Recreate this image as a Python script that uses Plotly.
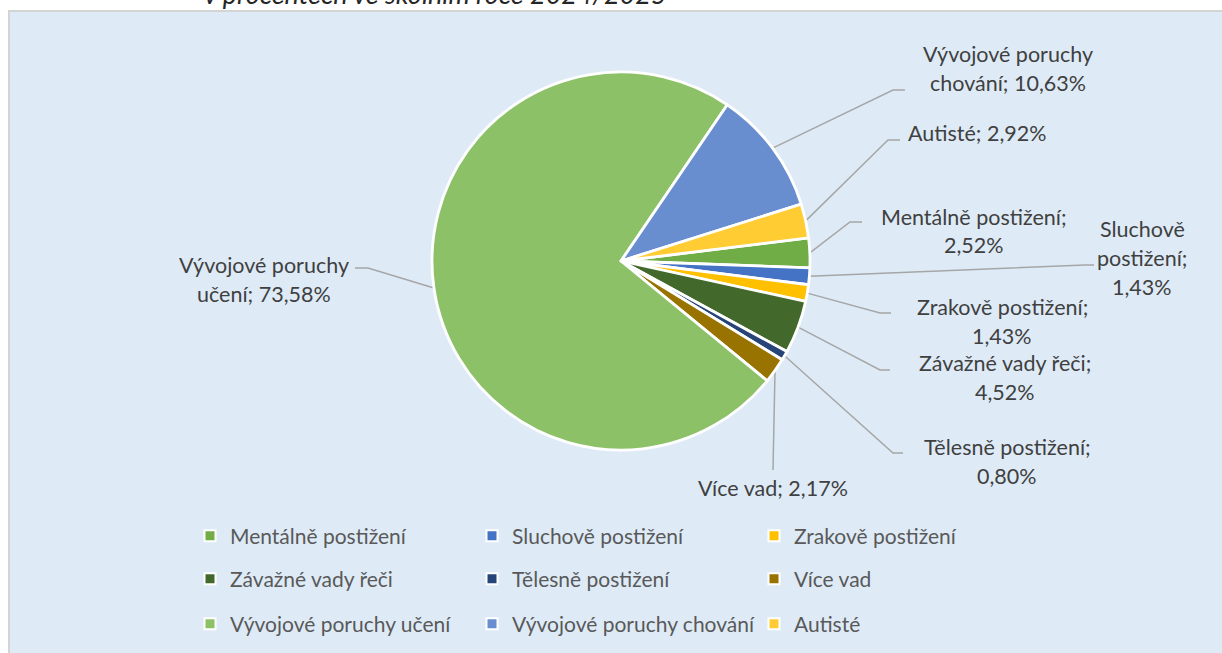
import numpy as np
import plotly.graph_objects as go

# data
labels = ["Mentálně postižení", "Sluchově postižení", "Zrakově postižení",
          "Závažné vady řeči", "Tělesně postižení", "Více vad",
          "Vývojové poruchy učení", "Vývojové poruchy chování", "Autisté"]
values = [2.52, 1.43, 1.43, 4.52, 0.80, 2.17, 73.58, 10.63, 2.92]
subtitle = "v procentech ve školním roce 2024/2025"

# styles
colors = ["#70AD47", "#4472C4", "#FFC000", "#43682B", "#264478", "#997300",
          "#8CC168", "#698ED0", "#FFCD33"]
FONT = "Lato"
W, H = 1222, 653
ML, MR = 150, 150
CX, CY, R = 621, 261, 189      # pie centre / radius in px
ROT = 83

# label layout: words per line, text block centre, leader knee (x, y, end x)
label_wrap = [[2, 1], [1, 1, 1], [2, 1], [3, 1], [2, 1], [3], [2, 2], [2, 2], [2]]
label_pos = [(974, 231), (1142, 258), (1002, 321), (1005, 378), (1007, 461),
             (773, 488), (264, 279), (1008, 68), (977, 133)]
leader_knee = [(850, 222, 862), (1085, 265, 1094), (880, 313, 891),
               (880, 370, 890), (893, 453, 903), (773, 470, 773),
               (368, 268, 355), (893, 90, 905), (888, 140, 900)]
LINE_H = 29

legend_rows = [536, 579, 624]
LEGEND_X = 190

gw = W - ML - MR


def px(x):
    return (x - ML) / gw


def py(y):
    return 1 - y / H


fig = go.Figure()

fig.add_trace(go.Pie(
    labels=labels, values=values, sort=False, direction="clockwise",
    rotation=ROT, textinfo="none", hoverinfo="skip", showlegend=False,
    marker=dict(colors=colors, line=dict(color="white", width=2.8)),
    domain=dict(x=[px(CX - R), px(CX + R)], y=[py(CY + R), py(CY - R)]),
))

# legend entries (3 rows of 3)
for i, (name, col) in enumerate(zip(labels, colors)):
    leg = "legend" if i // 3 == 0 else "legend%d" % (i // 3 + 1)
    fig.add_trace(go.Scatter(
        x=[None], y=[None], mode="markers", name=name, legend=leg,
        marker=dict(symbol="square", size=11, color=col,
                    line=dict(color="white", width=2)),
    ))

# leader lines + labels
total = sum(values)
cum = np.cumsum([0] + values[:-1])
shapes = [dict(type="rect", xref="paper", yref="paper", layer="below",
               x0=px(9), x1=px(W + 20), y0=py(H + 20), y1=py(11),
               fillcolor="#DEEBF7", line=dict(color="#D4D4D4", width=2))]
annotations = []
for i, (name, v) in enumerate(zip(labels, values)):
    theta = np.radians(ROT + (cum[i] + v / 2) / total * 360)
    ex, ey = CX + R * np.sin(theta), CY - R * np.cos(theta)
    kx, ky, endx = leader_knee[i]
    path = "M %f %f L %f %f L %f %f" % (px(ex), py(ey), px(kx), py(ky), px(endx), py(ky))
    shapes.append(dict(type="path", xref="paper", yref="paper", layer="below",
                       path=path, line=dict(color="#A6A6A6", width=1.5)))

    text = ("%s; %.2f" % (name, v)).replace(".", ",") + "%"
    words = text.split(" ")
    lines, k = [], 0
    for n in label_wrap[i]:
        lines.append(" ".join(words[k:k + n]))
        k += n
    tx, tyc = label_pos[i]
    y0 = tyc - (len(lines) - 1) * LINE_H / 2
    for j, ln in enumerate(lines):
        annotations.append(dict(
            x=px(tx), y=py(y0 + j * LINE_H), xref="paper", yref="paper",
            text=ln, showarrow=False, xanchor="center", yanchor="middle",
            font=dict(family=FONT, size=21.5, color="#404040")))

annotations.append(dict(
    x=px(435), y=py(12), xref="paper", yref="paper", text="<i>%s</i>" % subtitle,
    showarrow=False, xanchor="center", yanchor="bottom",
    font=dict(family=FONT, size=27, color="#262626")))

leg_style = dict(orientation="h", xanchor="left", yanchor="middle",
                 x=px(LEGEND_X), bgcolor="rgba(0,0,0,0)", entrywidth=237,
                 font=dict(family=FONT, size=21, color="#595959"))

fig.update_layout(
    width=W, height=H,
    margin=dict(l=ML, r=MR, t=0, b=0),
    paper_bgcolor="white", plot_bgcolor="rgba(0,0,0,0)",
    xaxis=dict(visible=False), yaxis=dict(visible=False),
    shapes=shapes, annotations=annotations,
    legend=dict(leg_style, y=py(legend_rows[0])),
    legend2=dict(leg_style, y=py(legend_rows[1])),
    legend3=dict(leg_style, y=py(legend_rows[2])),
)

# page has a default 8px body margin; drop it so the figure sits at 0,0
fig.write_html("out.html", config={"displayModeBar": False},
               post_script="document.body.style.margin='0px';")
